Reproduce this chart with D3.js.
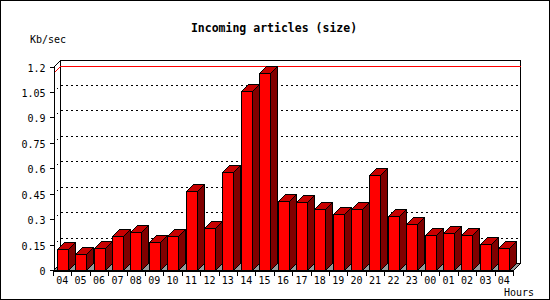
<!DOCTYPE html>
<html>
<head>
<meta charset="utf-8">
<script src="https://cdn.jsdelivr.net/npm/d3@7"></script>
<style>
  body { margin: 0; background: #fff; }
  svg { display: block; }
  text { font-family: "DejaVu Sans Mono", monospace; fill: #000; }
</style>
</head>
<body>
<div id="chart"></div>
<script>

// Hours on the x axis (the day wraps round, so "04" appears twice)
const hours = ["04", "05", "06", "07", "08", "09", "10", "11", "12", "13", "14", "15",
    "16", "17", "18", "19", "20", "21", "22", "23", "00", "01", "02", "03", "04"];

// Incoming article size per hour, Kb/sec
const sizeKbs = [0.124, 0.093, 0.128, 0.199, 0.224, 0.165, 0.199, 0.465, 0.246, 0.577,
    1.055, 1.161, 0.405, 0.400, 0.358, 0.329, 0.358, 0.560, 0.317, 0.270,
    0.205, 0.217, 0.205, 0.152, 0.128];

// Y axis ticks and their labels
const yTicks = [0, 0.15, 0.3, 0.45, 0.6, 0.75, 0.9, 1.05, 1.2];
const yTickLabels = ["0", "0.15", "0.3", "0.45", "0.6", "0.75", "0.9", "1.05", "1.2"];

const width = 550, height = 300;
const depth = 7;      // 3d offset, right and up
const barWidth = 11;

const svg = d3.select("#chart").append("svg")
    .attr("width", width)
    .attr("height", height)
    .attr("shape-rendering", "crispEdges");

// front plane scales
const xScale = d3.scaleBand()
    .domain(d3.range(hours.length))
    .range([53, 513]);

const yScale = d3.scaleLinear()
    .domain([0, 1.2])
    .range([270, 66.5]);

const pts = arr => arr.map(p => p.join(",")).join(" ");

// outer frame
svg.append("rect")
    .attr("x", 0.5).attr("y", 0.5)
    .attr("width", width - 1).attr("height", height - 1)
    .attr("fill", "#fff")
    .attr("stroke", "#000");

// back wall
const x0 = xScale.range()[0], x1 = xScale.range()[1];
svg.append("rect")
    .attr("x", x0 + depth + 0.5)
    .attr("y", yScale(1.2) - depth + 0.5)
    .attr("width", x1 - x0)
    .attr("height", yScale(0) - yScale(1.2))
    .attr("fill", "#fff")
    .attr("stroke", "#000");

// dotted grid lines on the wall, with the slanted piece to the axis
svg.append("g").selectAll("polyline")
    .data(yTicks.filter(d => d > 0 && d < 1.2))
    .enter().append("polyline")
    .attr("points", d => {
        const yy = Math.round(yScale(d)) + 0.5;
        return pts([[x0 + 0.5, yy], [x0 + depth + 0.5, yy - depth], [x1 + depth + 0.5, yy - depth]]);
    })
    .attr("fill", "none")
    .attr("stroke", "#000")
    .attr("stroke-dasharray", "2,3");

// red line at the maximum
const maxV = d3.max(sizeKbs);
const yMax = Math.round(yScale(maxV)) + 0.5;
svg.append("polyline")
    .attr("points", pts([[x0 + 0.5, yMax], [x0 + depth + 0.5, yMax - depth], [x1 + depth + 0.5, yMax - depth]]))
    .attr("fill", "none")
    .attr("stroke", "#ff0000");

// floor
const yb = yScale(0) + 0.5;
svg.append("polygon")
    .attr("points", pts([[x0 + 0.5, yb], [x1 + 0.5, yb], [x1 + depth + 0.5, yb - depth], [x0 + depth + 0.5, yb - depth]]))
    .attr("fill", "#999999")
    .attr("stroke", "#000");

// bars
const bars = svg.append("g").selectAll("g")
    .data(sizeKbs)
    .enter().append("g")
    .attr("stroke", "#000");

const bx = i => Math.round(xScale(i) + (xScale.bandwidth() - barWidth) / 2) + 0.5;
const by = d => Math.round(yScale(d)) + 0.5;

bars.append("polygon")   // side
    .attr("points", (d, i) => pts([
        [bx(i) + barWidth, by(d)], [bx(i) + barWidth + depth, by(d) - depth],
        [bx(i) + barWidth + depth, yb - depth], [bx(i) + barWidth, yb]]))
    .attr("fill", "#800000");

bars.append("polygon")   // top
    .attr("points", (d, i) => pts([
        [bx(i), by(d)], [bx(i) + depth, by(d) - depth],
        [bx(i) + barWidth + depth, by(d) - depth], [bx(i) + barWidth, by(d)]]))
    .attr("fill", "#c80000");

bars.append("rect")      // front
    .attr("x", (d, i) => bx(i))
    .attr("y", d => by(d))
    .attr("width", barWidth)
    .attr("height", d => yb - by(d))
    .attr("fill", "#ff0000");

// y axis (front)
const yAxis = svg.append("g")
    .attr("transform", `translate(${x0 + 0.5},0)`)
    .call(d3.axisLeft(yScale)
        .tickValues(yTicks)
        .tickFormat((d, i) => yTickLabels[i])
        .tickSizeInner(4)
        .tickSizeOuter(0)
        .tickPadding(4));

// top slant of the axis up to the wall
svg.append("line")
    .attr("x1", x0 + 0.5).attr("y1", Math.round(yScale(1.2)) + 0.5)
    .attr("x2", x0 + depth + 0.5).attr("y2", Math.round(yScale(1.2)) - depth + 0.5)
    .attr("stroke", "#000");

// x axis: labels centred in each band, ticks on band edges
const xAxis = svg.append("g")
    .attr("transform", `translate(0,${yb})`)
    .call(d3.axisBottom(xScale)
        .tickFormat(i => hours[i])
        .tickSize(0)
        .tickPadding(6));

xAxis.selectAll(".tick line").remove();
xAxis.selectAll(".boundary")
    .data(d3.range(hours.length + 1))
    .enter().append("line")
    .attr("class", "boundary")
    .attr("x1", i => Math.round(x0 + i * xScale.step()) + 0.5)
    .attr("x2", i => Math.round(x0 + i * xScale.step()) + 0.5)
    .attr("y1", 0)
    .attr("y2", 5)
    .attr("stroke", "#000");

svg.selectAll(".tick text")
    .attr("font-family", "DejaVu Sans Mono")
    .attr("font-size", 10)
    .attr("fill", "#000");
yAxis.selectAll(".tick text").attr("dy", "0.45em");
svg.selectAll(".domain").attr("stroke", "#000");

// titles
svg.append("text")
    .attr("x", 274).attr("y", 32)
    .attr("text-anchor", "middle")
    .attr("font-size", 11.5)
    .attr("font-weight", "bold")
    .text("Incoming articles (size)");

svg.append("text")
    .attr("x", 30).attr("y", 42.5)
    .attr("font-size", 10)
    .text("Kb/sec");

svg.append("text")
    .attr("x", 504).attr("y", 296)
    .attr("font-size", 10)
    .text("Hours");
</script>
</body>
</html>
